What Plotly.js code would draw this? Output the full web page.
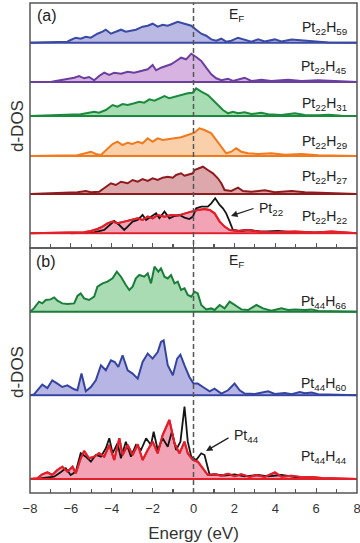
<!DOCTYPE html>
<html><head><meta charset="utf-8">
<script src="https://cdn.plot.ly/plotly-3.0.1.min.js"></script>
<style>html,body{margin:0;padding:0;background:#fff}#chart{width:360px;height:543px}</style>
</head><body><div id="chart"></div>
<script>
// ---- DATA (energy in eV, d-DOS in arbitrary units) ----
const e59 = [-8, -6.5, -6.17, -6.01, -5.76, -5.52, -5.27, -5.02, -4.70, -4.45, -4.29, -4.04, -3.80, -3.55, -3.31, -3.06, -2.82, -2.49, -2.24, -2.00, -1.75, -1.51, -1.26, -1.01, -0.77, -0.44, -0.11, 0.13, 0.38, 0.62, 0.87, 1.11, 1.36, 1.60, 1.85, 2.18, 2.50, 2.83, 3.16, 3.49, 3.98, 4.30, 4.80, 5.12, 5.61, 6.10, 6.60, 8];
const d59 = [0, 0.3, 1, 2.7, 5, 4, 6, 5, 9, 11, 13, 9, 11, 13, 11, 12, 13, 16, 17, 19, 16, 18, 17, 19, 21, 19, 17, 13, 9, 7, 3.3, 2, 4, 1, 2, 5, 2.7, 1, 3.3, 1.3, 3.3, 1.3, 3.3, 2.7, 2, 1, 0.3, 0];

const e45 = [-8, -6.99, -6.74, -6.50, -6.17, -5.84, -5.60, -5.35, -5.11, -4.86, -4.62, -4.37, -4.12, -3.88, -3.55, -3.22, -2.90, -2.57, -2.24, -2.00, -1.83, -1.59, -1.34, -1.10, -0.85, -0.61, -0.36, -0.11, 0.13, 0.38, 0.62, 0.87, 1.11, 1.36, 1.69, 1.93, 2.50, 2.83, 3.32, 3.81, 4.63, 5.29, 6.10, 6.92, 8];
const d45 = [0, 0, 1, 1.7, 2.7, 4.3, 6, 3.7, 5, 1.7, 6, 9.3, 7, 9.3, 8.3, 10.3, 9.3, 11, 12.7, 17, 11.7, 14.3, 16, 17.7, 21, 24.3, 22.7, 28.3, 25, 21, 14.3, 7.7, 3.7, 1.7, 3.3, 1, 4.3, 1, 2.3, 1, 2.3, 1, 1.7, 0.7, 0];

const e31 = [-8, -6.01, -5.52, -5.11, -4.86, -4.62, -4.29, -3.96, -3.72, -3.47, -3.22, -2.90, -2.65, -2.41, -2.16, -1.91, -1.67, -1.42, -1.18, -0.93, -0.61, -0.28, -0.03, 0.13, 0.38, 0.70, 0.95, 1.19, 1.44, 1.69, 1.93, 2.18, 2.50, 2.83, 3.32, 3.65, 4.30, 4.96, 5.45, 6.10, 6.60, 7.25, 8];
const d31 = [0, 1, 1.7, 3.3, 4.3, 3.3, 6, 11, 9.3, 12, 11, 12.7, 14.3, 13.3, 16.7, 15.3, 17.7, 20, 17.7, 19.3, 21, 22.7, 23.3, 27.7, 24.3, 21, 16, 11, 6, 2.7, 4.3, 2.7, 3.7, 2, 3.3, 1.7, 1, 2.7, 1, 0.7, 1.3, 0.3, 0];

const e29 = [-8, -5.68, -5.02, -4.78, -4.53, -4.21, -3.96, -3.72, -3.47, -3.22, -2.98, -2.73, -2.49, -2.24, -2.00, -1.75, -1.51, -1.26, -0.93, -0.61, -0.28, 0.05, 0.29, 0.54, 0.87, 1.11, 1.36, 1.60, 1.85, 2.09, 2.34, 2.67, 3.16, 3.81, 4.47, 5.29, 6.10, 7.09, 8];
const d29 = [0, 0.7, 4.3, 2, 1, 6.7, 12, 14.3, 11, 13.3, 12, 14.3, 12.7, 17.7, 14.3, 17.7, 16, 16.7, 17.7, 18.7, 21, 23.3, 27.7, 26, 22.7, 16, 9.3, 2.7, 4.3, 7.7, 4.3, 2.7, 2, 2.7, 1.3, 2, 0.7, 0.7, 0];

const e27 = [-8, -6.50, -5.68, -5.27, -5.02, -4.62, -4.29, -4.04, -3.80, -3.55, -3.22, -2.98, -2.73, -2.49, -2.24, -2.00, -1.75, -1.51, -1.26, -1.01, -0.85, -0.61, -0.44, -0.20, -0.03, 0.05, 0.29, 0.46, 0.70, 0.95, 1.19, 1.36, 1.52, 1.85, 2.18, 2.42, 2.83, 3.49, 3.98, 4.80, 5.45, 6.27, 7.09, 8];
const d27 = [0, 0.7, 1.7, 3, 1.7, 2.3, 7.3, 10.7, 9, 12.3, 10.7, 14, 12.3, 15, 13, 15.7, 14, 16.3, 17.3, 16.3, 19, 20.7, 18.3, 19.7, 20.7, 24, 25.7, 27.3, 24, 20.7, 15.7, 10.7, 4, 3, 6.3, 3, 2.3, 3.7, 1.7, 3, 1.7, 1, 0.7, 0];

const e22 = [-8, -6.17, -5.35, -5.02, -4.70, -4.45, -4.21, -3.96, -3.72, -3.39, -3.06, -2.73, -2.49, -2.24, -2.00, -1.75, -1.42, -1.10, -0.77, -0.44, -0.11, 0.21, 0.54, 0.79, 1.03, 1.28, 1.52, 1.77, 2.18, 2.67, 3.16, 3.81, 4.96, 5.94, 6.76, 8];
const d22 = [0, 1, 1, 2.3, 4.3, 6.7, 10, 11.7, 10, 11.7, 13.3, 15, 13.3, 16.7, 15, 18.3, 16.7, 18.3, 17.7, 20, 21.7, 23.3, 24.3, 23.3, 20, 11.7, 6.7, 3.3, 2.3, 3.3, 1.7, 1, 1.7, 0.7, 1.7, 0];

const ePt22 = [-6.0, -4.86, -4.37, -4.12, -3.88, -3.63, -3.39, -3.22, -2.98, -2.73, -2.49, -2.32, -2.08, -1.83, -1.67, -1.42, -1.18, -0.93, -0.69, -0.44, -0.20, -0.03, 0.13, 0.38, 0.70, 0.87, 1.06, 1.28, 1.44, 1.60, 1.77, 1.93, 2.26, 2.67, 3.32, 4.14, 4.96, 6.27];
const dPt22 = [0, 1, 3.3, 7.7, 12.3, 8.3, 3.3, 6.7, 11.7, 13.3, 18.3, 13.3, 16.7, 20, 15, 21.7, 15, 17.3, 18.3, 15.7, 14.3, 16.7, 25, 26.7, 26.7, 30, 35, 28.3, 25, 20, 11.7, 3.3, 2.3, 3.3, 1.7, 2.3, 1, 0.7];

const e66 = [-8, -7.81, -7.56, -7.40, -7.23, -6.99, -6.82, -6.66, -6.42, -6.17, -5.84, -5.68, -5.52, -5.35, -5.11, -4.86, -4.70, -4.45, -4.21, -3.96, -3.75, -3.55, -3.31, -3.14, -2.98, -2.82, -2.65, -2.41, -2.24, -2.08, -1.91, -1.72, -1.59, -1.42, -1.26, -1.10, -0.93, -0.77, -0.61, -0.44, -0.28, -0.11, 0.05, 0.21, 0.38, 0.62, 0.87, 1.03, 1.28, 1.52, 1.77, 2.01, 2.34, 2.67, 3.08, 3.40, 3.81, 4.30, 4.63, 4.96, 5.45, 5.78, 6.10, 8];
const d66 = [0, 3.3, 10, 8.3, 11.7, 12.3, 14.3, 11, 8.3, 7.7, 8.3, 15.7, 18.3, 13.3, 11.7, 15, 25, 28.3, 30, 33.3, 40, 35, 26.7, 21.7, 25, 33.3, 36.7, 35, 38.3, 28.3, 45, 40, 43.3, 35, 33.3, 36.7, 28.3, 30, 21.7, 23.3, 16.7, 15, 20, 18.3, 6.7, 2.3, 3.3, 1.7, 6.7, 3.3, 10, 6.7, 2.3, 1.7, 6.7, 3.3, 1, 3.3, 1.7, 2.3, 1.7, 2.3, 0.7, 0];

const e60 = [-8, -7.81, -7.64, -7.40, -7.15, -6.91, -6.66, -6.42, -6.17, -5.84, -5.68, -5.48, -5.27, -5.02, -4.78, -4.53, -4.29, -4.04, -3.85, -3.68, -3.47, -3.22, -2.98, -2.73, -2.49, -2.24, -2.00, -1.75, -1.59, -1.46, -1.26, -1.01, -0.80, -0.64, -0.44, -0.20, 0, 0.21, 0.46, 0.79, 1.03, 1.36, 1.69, 2.01, 2.26, 2.50, 3.00, 3.40, 3.65, 3.98, 4.47, 4.80, 5.20, 5.45, 5.78, 6.10, 8];
const d60 = [0, 0.7, 5, 10.7, 7.3, 15, 11.7, 8.3, 10, 6, 5, 21.7, 4, 8.3, 15, 30, 25, 35, 33.3, 28.3, 40, 25, 21.7, 16.7, 33.3, 41.7, 36.7, 43.3, 53.3, 55, 30, 20, 36.7, 40.7, 30, 18.3, 11.7, 11.7, 8.3, 4, 6.7, 1.7, 5, 11.7, 5, 1.7, 1.3, 3.3, 4, 1.3, 2.3, 1, 3.3, 2, 2.7, 1, 0];

const e44 = [-8, -7.64, -7.40, -7.15, -6.91, -6.66, -6.42, -6.17, -5.92, -5.76, -5.52, -5.35, -5.11, -4.86, -4.62, -4.37, -4.12, -3.88, -3.63, -3.47, -3.22, -2.98, -2.73, -2.49, -2.24, -2.00, -1.75, -1.51, -1.18, -0.93, -0.69, -0.44, -0.28, -0.03, 0.21, 0.46, 0.70, 1.03, 1.36, 1.69, 2.01, 2.34, 2.75, 3.08, 3.49, 3.98, 4.30, 4.80, 5.29, 5.78, 6.27, 8];
const d44 = [0, 0.7, 4.7, 6.7, 4, 9, 12.3, 7.3, 12.3, 5.7, 20.7, 28, 20.7, 22.3, 25.7, 22.3, 34, 19, 40.7, 24, 34, 24, 34.7, 19, 29, 37.3, 25.7, 44, 59, 35.7, 25.7, 37.3, 25.7, 19, 17.3, 10.7, 4, 4.7, 3.3, 5.3, 2.7, 4.7, 2, 4, 2, 6.7, 2.3, 3.3, 1.7, 2, 1, 0];

const ePt44 = [-7.5, -6.82, -6.50, -6.25, -6.01, -5.76, -5.52, -5.27, -5.02, -4.78, -4.53, -4.29, -4.12, -3.96, -3.72, -3.55, -3.31, -3.06, -2.82, -2.57, -2.32, -2.08, -1.95, -1.75, -1.51, -1.26, -1.06, -0.85, -0.64, -0.44, -0.28, -0.11, 0.13, 0.38, 0.54, 0.79, 1.11, 1.52, 2.01, 2.50, 3.16, 3.65, 4.30, 4.96, 5.45];
const dPt44 = [0.7, 2.3, 6.7, 10.7, 4, 7.3, 25.7, 22.3, 17.3, 24, 22.3, 30.7, 40.7, 25.7, 35.7, 20.7, 37.3, 22.3, 34, 29, 40.7, 34, 47.3, 29, 40.7, 32.3, 47.3, 29, 37.3, 72.3, 37.3, 22.3, 19, 25.7, 24, 4, 4.7, 3.3, 4.7, 2.7, 4, 2.7, 4, 2, 0.7];

const seriesLabels = ['Pt<sub>22</sub>H<sub>59</sub>', 'Pt<sub>22</sub>H<sub>45</sub>', 'Pt<sub>22</sub>H<sub>31</sub>', 'Pt<sub>22</sub>H<sub>29</sub>', 'Pt<sub>22</sub>H<sub>27</sub>', 'Pt<sub>22</sub>H<sub>22</sub>', 'Pt<sub>44</sub>H<sub>66</sub>', 'Pt<sub>44</sub>H<sub>60</sub>', 'Pt<sub>44</sub>H<sub>44</sub>'];
const xTickVals = [-8, -6, -4, -2, 0, 2, 4, 6, 8];

// ---- STYLE / LAYOUT ----
const FONT = 'Liberation Sans, Arial, Helvetica, sans-serif';
const L = 30, R = 357, T = 3, B = 493;
const fx = x => (x - L) / (R - L);
const fy = y => (B - y) / (B - T);
const PAD = 1.5;
const SPLIT = 248;

const subs = [
  {e: e59, d: d59, color: '#3a4aa5', fill: '#bab9e3', base: 42.7, top: 3,     xa: 'x',  ly: 28.5},
  {e: e45, d: d45, color: '#6b3f9e', fill: '#d7b3e2', base: 82,   top: 42.7,  xa: 'x',  ly: 66.5},
  {e: e31, d: d31, color: '#1b8a3c', fill: '#a8dcb2', base: 116,  top: 82,    xa: 'x',  ly: 104},
  {e: e29, d: d29, color: '#f07a1e', fill: '#f9d0aa', base: 156,  top: 116,   xa: 'x',  ly: 142},
  {e: e27, d: d27, color: '#8e1b1e', fill: '#dca8ab', base: 194,  top: 156,   xa: 'x',  ly: 177},
  {e: e22, d: d22, color: '#e3202a', fill: '#f3a3b6', base: 233.3,top: 194,   xa: 'x',  ly: 217, ov: [ePt22, dPt22]},
  {e: e66, d: d66, color: '#1b7d3a', fill: '#a9dcb3', base: 311.7,top: SPLIT, xa: 'x2', ly: 302},
  {e: e60, d: d60, color: '#3444a0', fill: '#b7b5e3', base: 395.3,top: 311.7, xa: 'x2', ly: 384},
  {e: e44, d: d44, color: '#e3202a', fill: '#f3a3b6', base: 479,  top: 395.3, xa: 'x2', ly: 457, ov: [ePt44, dPt44]}
];

const traces = [];
const layout = {
  width: 360, height: 543,
  margin: {l: L, r: 360 - R, t: T, b: 543 - B},
  paper_bgcolor: '#fff', plot_bgcolor: 'rgba(0,0,0,0)',
  showlegend: false,
  font: {family: FONT, color: '#333'},
  shapes: [], annotations: []
};

const xCommon = {
  domain: [0, 1], range: [-8, 8], tickvals: xTickVals, ticks: 'inside', ticklen: 5, tickwidth: 1.2, tickcolor: '#555',
  minor: {dtick: 1, tick0: 0, ticks: 'inside', ticklen: 4, tickwidth: 1.2, tickcolor: '#555'},
  showgrid: false, zeroline: false, showline: false, anchor: 'free', fixedrange: true
};
layout.xaxis = Object.assign({}, xCommon, {position: fy(SPLIT), showticklabels: false});
layout.xaxis2 = Object.assign({}, xCommon, {position: 0, showticklabels: true, ticklabeloverflow: 'allow',
  ticklabelstandoff: 6,
  tickfont: {family: FONT, size: 13, color: '#333'},
  title: {text: 'Energy (eV)', font: {family: FONT, size: 17, color: '#333'}, standoff: 12}});

subs.forEach((s, i) => {
  const yk = 'y' + (i + 1);
  const ykey = 'yaxis' + (i + 1);
  layout[ykey] = {domain: [fy(s.base + PAD), fy(s.top)], range: [-PAD, s.base - s.top], visible: false, anchor: s.xa, fixedrange: true};
  traces.push({x: s.e, y: s.d, xaxis: s.xa, yaxis: yk, mode: 'lines', fill: 'tozeroy', fillcolor: s.fill,
    line: {color: s.color, width: 2}, hoverinfo: 'skip'});
  if (s.ov) {
    traces.push({x: s.ov[0], y: s.ov[1], xaxis: s.xa, yaxis: yk, mode: 'lines', line: {color: '#151515', width: 1.8}, hoverinfo: 'skip'});
    traces.push({x: s.e, y: s.d, xaxis: s.xa, yaxis: yk, mode: 'lines', line: {color: s.color, width: 2}, hoverinfo: 'skip'});
  }
  layout.shapes.push({type: 'line', xref: s.xa, yref: yk, x0: -8, x1: 8, y0: 0, y1: 0, line: {color: s.color, width: 2}});
  layout.annotations.push({xref: 'paper', yref: 'paper', x: fx(349), y: fy(s.ly), xanchor: 'right', yanchor: 'middle',
    text: seriesLabels[i], showarrow: false, font: {family: FONT, size: 14, color: '#222'}});
});

// frames and Fermi level
layout.shapes.push({type: 'rect', xref: 'paper', yref: 'paper', x0: 0, x1: 1, y0: fy(SPLIT), y1: 1, line: {color: '#555', width: 1.5}});
layout.shapes.push({type: 'rect', xref: 'paper', yref: 'paper', x0: 0, x1: 1, y0: 0, y1: fy(SPLIT), line: {color: '#555', width: 1.5}});
layout.shapes.push({type: 'line', xref: 'x', yref: 'paper', x0: 0, x1: 0, y0: 0, y1: 1, line: {color: '#555', width: 1.5, dash: '5px,3px'}});

const ann = (x, y, text, size, extra) => Object.assign({xref: 'paper', yref: 'paper', x: fx(x), y: fy(y), text: text,
  showarrow: false, xanchor: 'left', yanchor: 'middle', font: {family: FONT, size: size, color: '#222'}}, extra || {});
layout.annotations.push(ann(35, 16, '(a)', 16));
layout.annotations.push(ann(34, 261, '(b)', 16));
layout.annotations.push(ann(227, 15, 'E<sub>F</sub>', 14));
layout.annotations.push(ann(227, 261, 'E<sub>F</sub>', 14));
layout.annotations.push(ann(257, 209, 'Pt<sub>22</sub>', 14));
layout.annotations.push(ann(232, 436, 'Pt<sub>44</sub>', 14));
layout.annotations.push(ann(17, 126, 'd-DOS', 17, {xanchor: 'center', textangle: -90, font: {family: FONT, size: 17, color: '#333'}}));
layout.annotations.push(ann(17, 372, 'd-DOS', 17, {xanchor: 'center', textangle: -90, font: {family: FONT, size: 17, color: '#333'}}));
// arrows
const arrow = (hx, hy, ax, ay) => ({xref: 'paper', yref: 'paper', x: fx(hx), y: fy(hy), text: '', showarrow: true,
  ax: ax, ay: ay, arrowhead: 2, arrowsize: 1, arrowwidth: 1.3, arrowcolor: '#222', standoff: 0});
layout.annotations.push(arrow(231, 216, 24, -8));
layout.annotations.push(arrow(206, 451, 24, -14));

Plotly.newPlot('chart', traces, layout, {displayModeBar: false, staticPlot: true});
</script>
</body></html>
